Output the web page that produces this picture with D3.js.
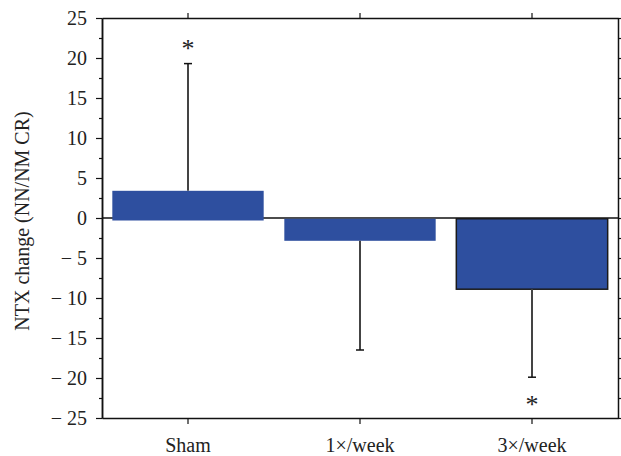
<!DOCTYPE html>
<html>
<head>
<meta charset="utf-8">
<script src="https://cdn.jsdelivr.net/npm/d3@7"></script>
<style>
  body { margin: 0; background: #fff; }
  svg text { font-family: "Liberation Serif", "DejaVu Serif", serif !important; fill: #222; }
</style>
</head>
<body>
<div id="chart"></div>
<script>
// donnees
const groups = ["Sham", "1\u00d7/week", "3\u00d7/week"];
const means = [3.4, -2.85, -8.9];
const errors = [15.9, 13.65, 11.0];
const significant = [true, false, true];
const yTicks = [-25, -20, -15, -10, -5, 0, 5, 10, 15, 20, 25];

const W = 621, H = 456;
const m = { left: 102, right: 3, top: 18, bottom: 38 };
const serif = '"Liberation Serif", "DejaVu Serif", serif';

const svg = d3.select("#chart")
  .append("svg")
  .attr("width", W)
  .attr("height", H)
  .style("font-family", serif);

const x = d3.scaleBand()
  .domain(groups)
  .range([m.left, W - m.right])
  .paddingInner(0.12)
  .paddingOuter(0.06);

const y = d3.scaleLinear()
  .domain([-25, 25])
  .range([H - m.bottom, m.top]);

const fmt = v => v < 0 ? "\u2212 " + Math.abs(v) : String(v);

const data = groups.map((g, i) => ({ g, v: means[i], e: errors[i], s: significant[i] }));

// ligne zero (sous les barres)
svg.append("line")
  .attr("x1", m.left).attr("x2", W - m.right)
  .attr("y1", y(0)).attr("y2", y(0))
  .attr("stroke", "#111")
  .attr("stroke-width", 1.5);

// barres
svg.append("g")
  .selectAll("rect")
  .data(data)
  .enter()
  .append("rect")
  .attr("x", d => x(d.g))
  .attr("width", x.bandwidth())
  .attr("y", d => y(Math.max(0, d.v)) + (d.v < 0 ? 0.75 : 0))
  .attr("height", d => Math.abs(y(d.v) - y(0)) + (d.v > 0 ? 2.5 : -0.75))
  .attr("fill", "#2e4f9f")
  .attr("stroke", (d, i) => i === 2 ? "#1a1a1a" : "none")
  .attr("stroke-width", 1.5);

// barres d'erreur (un seul cote)
const cx = d => x(d.g) + x.bandwidth() / 2;
const tip = d => d.v >= 0 ? d.v + d.e : d.v - d.e;

const err = svg.append("g");
err.selectAll("line.stem")
  .data(data)
  .enter()
  .append("line")
  .attr("class", "stem")
  .attr("x1", cx).attr("x2", cx)
  .attr("y1", d => y(d.v))
  .attr("y2", d => y(tip(d)))
  .attr("stroke", "#444")
  .attr("stroke-width", 2);

err.selectAll("line.cap")
  .data(data)
  .enter()
  .append("line")
  .attr("class", "cap")
  .attr("x1", d => cx(d) - 4).attr("x2", d => cx(d) + 4)
  .attr("y1", d => y(tip(d)))
  .attr("y2", d => y(tip(d)))
  .attr("stroke", "#111")
  .attr("stroke-width", 1.5);

// etoiles
svg.append("g")
  .selectAll("text")
  .data(data.filter(d => d.s))
  .enter()
  .append("text")
  .attr("x", cx)
  .attr("y", d => y(tip(d)) + (d.v >= 0 ? -20 : 23) + 13)
  .attr("text-anchor", "middle")
  .style("font-size", "26px")
  .text("*");

// axes
function styleAxis(g) {
  g.attr("font-family", serif);
  g.selectAll(".domain").attr("stroke", "#111").attr("stroke-width", 1.5);
  g.selectAll(".tick line").attr("stroke", "#111").attr("stroke-width", 1.2);
  g.selectAll("text").style("font-size", "20px").style("font-family", serif).attr("fill", "#222");
}

svg.append("g")
  .attr("transform", `translate(${m.left},0)`)
  .call(d3.axisLeft(y).tickValues(yTicks).tickSize(6).tickPadding(9).tickFormat(fmt).tickSizeOuter(0))
  .call(styleAxis);

svg.append("g")
  .attr("transform", `translate(${m.left},0)`)
  .call(d3.axisLeft(y).tickValues(d3.range(-22.5, 25, 5)).tickSize(3).tickFormat("").tickSizeOuter(0))
  .call(styleAxis);

svg.append("g")
  .attr("transform", `translate(${W - m.right},0)`)
  .call(d3.axisRight(y).tickValues(d3.range(-25, 25.01, 2.5)).tickSize(3).tickFormat("").tickSizeOuter(0))
  .call(styleAxis);

svg.append("g")
  .attr("transform", `translate(0,${H - m.bottom})`)
  .call(d3.axisBottom(x).tickSize(6).tickPadding(14).tickSizeOuter(0))
  .call(styleAxis);

svg.append("g")
  .attr("transform", `translate(0,${m.top})`)
  .call(d3.axisTop(x).tickSize(5).tickFormat("").tickSizeOuter(0))
  .call(styleAxis);

// titre axe y
svg.append("text")
  .attr("transform", `translate(29,${(m.top + H - m.bottom) / 2 + 3}) rotate(-90)`)
  .attr("text-anchor", "middle")
  .style("font-size", "20px")
  .style("font-family", serif)
  .text("NTX change (NN/NM CR)");
</script>
</body>
</html>
